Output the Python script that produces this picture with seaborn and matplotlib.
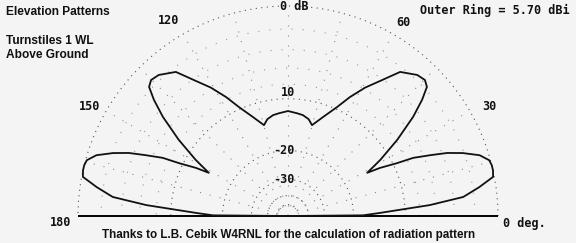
import numpy as np
import pandas as pd
import matplotlib
matplotlib.use("Agg")
import matplotlib.pyplot as plt
import seaborn as sns

# ---- data ----
# right half of the symmetric elevation pattern, elevation angle in degrees
half_angles = [0, 0.5, 1.9, 4.4, 6.2, 8.6, 10.8, 12.5, 14.0, 15.5, 17.6, 19.8,
               21.6, 23.2, 24.9, 25.9, 27.6, 28.6, 31.3, 34.9, 38.4, 40.9,
               42.9, 44.8, 47.5, 52.1, 55.1, 59.0, 62.5, 65.8, 70.5, 75.2,
               78.0, 81.6, 85.0, 90.0]
# gain relative to outer ring (dB)
half_db = [-99, -17.7, -14.2, -6.7, -3.0, -1.4, -0.1, 0.0, 0.0, -0.1, -0.75,
           -2.1, -3.5, -5.3, -7.2, -9.5, -12.1, -14.5, -11.4, -7.8, -4.7,
           -2.9, -1.75, -1.45, -1.6, -2.4, -4.0, -5.8, -7.7, -9.7, -11.9,
           -13.8, -12.9, -12.4, -12.2, -11.9]
major_rings_db = [0, -10, -20, -30, -40, -50]
minor_rings_db = [-2, -4, -6, -8]
ring_labels = ["0 dB", "10", "-20", "-30"]
angle_ticks = [180, 150, 120, 60, 30]
outer_ring_dbi = 5.70


def arrl(db):
    return 0.89 ** (-np.asarray(db, dtype=float) / 2.0)


# full pattern (mirror about 90 deg)
ang = np.array(half_angles + [180 - a for a in half_angles[::-1][1:]])
dbs = np.array(half_db + half_db[::-1][1:])
r = arrl(dbs)
df = pd.DataFrame({"x": r * np.cos(np.radians(ang)),
                   "y": r * np.sin(np.radians(ang)),
                   "order": np.arange(len(ang))})

sns.set_theme(style="white")
plt.rcParams["font.family"] = ["DejaVu Sans"]

W, H = 576, 243
CX, CY, RP = 288, 216, 210.0
fig = plt.figure(figsize=(W / 100, H / 100), dpi=100)
bg = "#f4f4f4"
fig.patch.set_facecolor(bg)
ax = fig.add_axes([0, 0, 1, 1])
ax.set_facecolor(bg)


def P(x, y):
    return ((x - CX) / RP, (CY - y) / RP)


t = np.radians(np.linspace(0, 180, 361))
# grid rings
for d in minor_rings_db:
    rr = arrl(d)
    ax.plot(rr * np.cos(t), rr * np.sin(t), color="#9a9a9a", lw=0.8,
            ls=(0, (1, 9)), zorder=1)
for d in major_rings_db:
    rr = arrl(d)
    ax.plot(rr * np.cos(t), rr * np.sin(t), color="#555555", lw=0.8,
            ls=(0, (1, 4)), zorder=1)
# spokes
for a in range(15, 180, 15):
    ax.plot([0, np.cos(np.radians(a))], [0, np.sin(np.radians(a))],
            color="#8a8a8a", lw=0.8, ls=(0, (1, 8)), zorder=1)

# ground line
ax.hlines(0, -1.0, 1.0, color="black", lw=1.4, zorder=3)

# pattern
sns.lineplot(data=df, x="x", y="y", sort=False, estimator=None, ax=ax,
             color="#111111", lw=1.3, zorder=4, legend=False)
ax.set_xlim(-CX / RP, (W - CX) / RP)
ax.set_ylim(-(H - CY) / RP, CY / RP)
ax.axis("off")

mono = dict(family=["DejaVu Sans Mono"], fontweight="bold", fontsize=8.5,
            color="#111111", zorder=5)
sansb = dict(family=["Liberation Sans", "DejaVu Sans"], fontweight="bold",
             fontsize=8.6, color="#111111", zorder=5)

ax.text(*P(6, 12), "Elevation Patterns", ha="left", va="center", **sansb)
ax.text(*P(6, 41), "Turnstiles 1 WL", ha="left", va="center", **sansb)
ax.text(*P(6, 55), "Above Ground", ha="left", va="center", **sansb)
ax.text(*P(420, 10), f"Outer Ring = {outer_ring_dbi:.2f} dBi", ha="left",
        va="center", **mono)

# ring labels
lab_pos = [(294, 7), (288, 93), (284, 151), (284, 179)]
for s, (x, y) in zip(ring_labels, lab_pos):
    ax.text(*P(x, y), s, ha="center", va="center", **mono)

# angle labels
apos = {180: (61, 222), 150: (90, 107), 120: (169, 21), 60: (403, 22),
        30: (489, 107)}
for a in angle_ticks:
    ax.text(*P(*apos[a]), str(a), ha="center", va="center", **mono)
ax.text(*P(503, 223), "0 deg.", ha="left", va="center", **mono)

ax.text(*P(289, 235),
        "Thanks to L.B. Cebik W4RNL for the calculation of radiation pattern",
        ha="center", va="center",
        family=["Liberation Sans Narrow", "Liberation Sans", "DejaVu Sans"],
        fontweight="bold", fontsize=8.35, color="#111111", zorder=5)

fig.savefig("out.png", dpi=100, facecolor=bg)
